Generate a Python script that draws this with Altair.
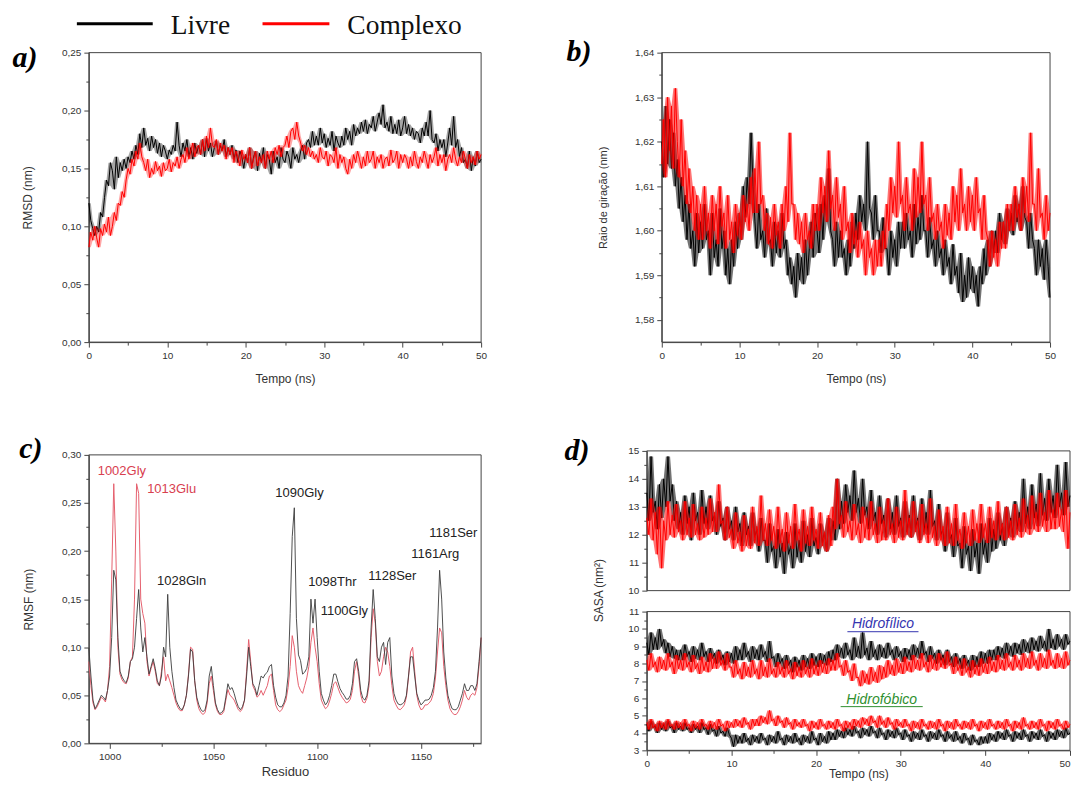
import altair as alt
import pandas as pd

# ---------------- dados ----------------
PASSO_NS = 0.25
SERIES = ["Livre", "Complexo"]
CORES = ["#000000", "#ff0000"]

# a) RMSD (em 0,001 nm), passo de 0,25 ns
RMSD_LIVRE = [
    120, 105, 98, 92, 100, 95, 112, 108, 125, 140, 135, 155, 148, 132, 160, 142,
    155, 148, 158, 150, 160, 155, 165, 158, 170, 162, 180, 168, 185, 170, 176, 165,
    178, 168, 175, 163, 172, 160, 170, 165, 158, 166, 162, 170, 165, 190, 170, 160,
    172, 165, 175, 160, 168, 158, 172, 163, 170, 162, 175, 160, 176, 165, 172, 160,
    168, 174, 162, 170, 165, 175, 160, 168, 162, 170, 158, 166, 155, 165, 160, 150,
    162, 155, 168, 150, 160, 165, 148, 163, 155, 168, 150, 162, 158, 145, 165, 155,
    160, 150, 168, 158, 155, 165, 160, 150, 168, 158, 162, 155, 165, 170, 158, 172,
    175, 168, 182, 170, 178, 170, 185, 172, 180, 168, 176, 170, 182, 165, 178, 172,
    168, 178, 170, 185, 175, 182, 170, 188, 178, 185, 180, 190, 182, 192, 180, 188,
    185, 195, 182, 190, 198, 188, 205, 185, 190, 182, 195, 180, 188, 180, 192, 178,
    185, 195, 180, 188, 178, 185, 175, 182, 180, 172, 185, 178, 190, 178, 200, 175,
    172, 180, 165, 175, 168, 175, 160, 172, 185, 170, 195, 168, 175, 160, 168, 155,
    158, 150, 165, 148, 160, 152, 165, 155, 158]
RMSD_COMPLEXO = [
    82, 95, 88, 100, 90, 82, 98, 92, 102, 95, 108, 92, 100, 112, 105, 120,
    118, 130, 125, 140, 150, 145, 158, 152, 165, 158, 172, 160, 155, 148, 158, 142,
    150, 145, 156, 148, 152, 143, 155, 148, 150, 158, 147, 155, 152, 160, 150, 158,
    162, 155, 168, 158, 165, 172, 160, 168, 170, 162, 175, 165, 178, 168, 185, 170,
    168, 175, 162, 172, 165, 170, 158, 168, 162, 168, 155, 165, 160, 152, 166, 158,
    162, 155, 168, 150, 158, 165, 152, 160, 155, 162, 150, 165, 158, 165, 155, 168,
    162, 170, 160, 168, 170, 178, 168, 182, 185, 175, 190, 178, 172, 165, 170, 162,
    168, 160, 165, 158, 162, 155, 168, 160, 158, 165, 152, 162, 160, 155, 168, 150,
    162, 155, 160, 150, 145, 158, 150, 162, 155, 165, 158, 150, 160, 152, 165, 155,
    158, 165, 150, 160, 155, 162, 150, 158, 160, 152, 166, 155, 158, 165, 150, 162,
    155, 162, 158, 150, 160, 152, 165, 156, 150, 160, 155, 165, 158, 150, 162, 155,
    160, 168, 152, 162, 155, 162, 148, 158, 162, 155, 168, 158, 152, 160, 155, 165,
    158, 150, 162, 155, 160, 153, 165, 158, 162]

# b) Raio de giracao (em 0,001 nm)
RG_LIVRE = [
    1620, 1612, 1628, 1615, 1625, 1614, 1622, 1610, 1616, 1605, 1612, 1602, 1608, 1598, 1606, 1596,
    1600, 1592, 1604, 1595, 1602, 1596, 1606, 1598, 1600, 1590, 1604, 1594, 1598, 1592, 1605, 1596,
    1600, 1590, 1596, 1588, 1598, 1592, 1602, 1596, 1604, 1598, 1610, 1603, 1612, 1606, 1622, 1610,
    1602, 1596, 1606, 1598, 1600, 1594, 1605, 1597, 1598, 1592, 1602, 1595, 1600, 1594, 1604, 1596,
    1598, 1590, 1594, 1588, 1592, 1585, 1595, 1589, 1594, 1588, 1598, 1590, 1596, 1602, 1594, 1604,
    1600, 1595, 1606, 1598, 1608, 1602, 1614, 1600, 1598, 1592, 1602, 1594, 1600, 1594, 1596, 1590,
    1598, 1592, 1602, 1596, 1604, 1598, 1608, 1602, 1606, 1600, 1620, 1605, 1604, 1598, 1608, 1600,
    1600, 1595, 1603, 1596, 1596, 1590, 1600, 1594, 1598, 1592, 1602, 1596, 1602, 1596, 1604, 1598,
    1600, 1594, 1606, 1597, 1603, 1598, 1608, 1600, 1600, 1594, 1603, 1596, 1598, 1592, 1600, 1594,
    1596, 1590, 1598, 1592, 1594, 1588, 1597, 1590, 1592, 1586, 1595, 1584, 1590, 1585, 1594, 1587,
    1592, 1586, 1590, 1583, 1592, 1588, 1596, 1590, 1598, 1592, 1600, 1595, 1600, 1595, 1604, 1598,
    1602, 1597, 1605, 1600, 1604, 1599, 1608, 1602, 1606, 1600, 1610, 1603, 1602, 1596, 1604, 1598,
    1596, 1590, 1598, 1592, 1596, 1589, 1598, 1592, 1585]
RG_COMPLEXO = [
    1615, 1625, 1612, 1630, 1618, 1628, 1614, 1632, 1620, 1612, 1625, 1610, 1618, 1606, 1614, 1604,
    1610, 1600, 1608, 1598, 1606, 1598, 1610, 1600, 1604, 1596, 1608, 1600, 1606, 1597, 1610, 1601,
    1604, 1596, 1608, 1598, 1602, 1595, 1606, 1599, 1604, 1598, 1608, 1602, 1606, 1600, 1612, 1604,
    1614, 1604, 1620, 1606, 1608, 1600, 1604, 1597, 1603, 1596, 1606, 1599, 1602, 1596, 1606, 1600,
    1610, 1602, 1622, 1606, 1606, 1598, 1604, 1597, 1602, 1595, 1604, 1598, 1600, 1596, 1606, 1600,
    1606, 1600, 1612, 1604, 1610, 1602, 1618, 1605, 1608, 1600, 1612, 1603, 1606, 1598, 1610, 1600,
    1602, 1595, 1604, 1597, 1600, 1594, 1602, 1596, 1598, 1590, 1600, 1594, 1596, 1590, 1598, 1592,
    1598, 1592, 1600, 1596, 1606, 1600, 1612, 1604, 1610, 1603, 1620, 1606, 1608, 1600, 1612, 1604,
    1606, 1600, 1614, 1603, 1612, 1604, 1620, 1606, 1608, 1600, 1612, 1602, 1604, 1598, 1606, 1600,
    1602, 1596, 1606, 1599, 1604, 1598, 1610, 1602, 1608, 1600, 1614, 1604, 1606, 1600, 1610, 1602,
    1608, 1600, 1612, 1604, 1605, 1598, 1608, 1600, 1598, 1592, 1600, 1594, 1598, 1592, 1602, 1596,
    1602, 1596, 1606, 1600, 1606, 1600, 1610, 1603, 1606, 1600, 1612, 1604, 1610, 1602, 1622, 1606,
    1606, 1600, 1614, 1603, 1604, 1598, 1608, 1600, 1604]

# c) RMSF (nm) por residuo
RESIDUOS = list(range(990, 1180))
RMSF_LIVRE = [
    0.099, 0.07, 0.045, 0.036, 0.04, 0.045, 0.05, 0.048, 0.045, 0.055,
    0.07, 0.11, 0.18, 0.17, 0.11, 0.075, 0.069, 0.065, 0.063, 0.07,
    0.085, 0.088, 0.1, 0.13, 0.16, 0.12, 0.095, 0.11, 0.09, 0.072,
    0.08, 0.088, 0.078, 0.065, 0.06, 0.07, 0.1, 0.09, 0.155, 0.1,
    0.075, 0.058, 0.045, 0.04, 0.036, 0.035, 0.04, 0.05, 0.07, 0.098,
    0.095, 0.065, 0.048, 0.04, 0.035, 0.033, 0.035, 0.045, 0.07, 0.08,
    0.06, 0.042, 0.035, 0.031, 0.032, 0.035, 0.048, 0.062, 0.056, 0.058,
    0.052, 0.044, 0.038, 0.035, 0.038, 0.045, 0.07, 0.1, 0.08, 0.062,
    0.058, 0.05, 0.06, 0.07, 0.068, 0.072, 0.074, 0.08, 0.082, 0.06,
    0.048, 0.04, 0.038, 0.038, 0.042, 0.05, 0.07, 0.135, 0.215, 0.245,
    0.13, 0.092, 0.086, 0.072, 0.074, 0.078, 0.09, 0.15, 0.125, 0.15,
    0.11, 0.075, 0.052, 0.045, 0.04, 0.043, 0.05, 0.06, 0.072, 0.072,
    0.064, 0.057, 0.053, 0.05, 0.046, 0.046, 0.05, 0.062, 0.085, 0.088,
    0.075, 0.055, 0.047, 0.045, 0.05, 0.065, 0.12, 0.16, 0.13, 0.09,
    0.085, 0.1, 0.105, 0.082, 0.105, 0.11, 0.07, 0.052, 0.045, 0.041,
    0.04, 0.041, 0.043, 0.05, 0.07, 0.09, 0.09, 0.07, 0.052, 0.045,
    0.04, 0.042, 0.045, 0.045, 0.046, 0.05, 0.058, 0.075, 0.12, 0.18,
    0.15, 0.095, 0.068, 0.05, 0.042, 0.036, 0.035, 0.035, 0.038, 0.045,
    0.052, 0.062, 0.055, 0.055, 0.06, 0.06, 0.055, 0.062, 0.085, 0.11]
RMSF_COMPLEXO = [
    0.085, 0.06, 0.042, 0.035, 0.038, 0.043, 0.048, 0.046, 0.043, 0.055,
    0.08, 0.17, 0.27, 0.2, 0.1, 0.072, 0.066, 0.063, 0.062, 0.068,
    0.085, 0.09, 0.15, 0.27, 0.26, 0.15, 0.135, 0.125, 0.085, 0.07,
    0.078, 0.085, 0.075, 0.062, 0.06, 0.075, 0.09, 0.065, 0.072, 0.065,
    0.058, 0.05, 0.042, 0.037, 0.034, 0.034, 0.04, 0.05, 0.072, 0.1,
    0.098, 0.065, 0.045, 0.036, 0.032, 0.03, 0.032, 0.042, 0.062, 0.07,
    0.055, 0.04, 0.033, 0.03, 0.03, 0.033, 0.045, 0.056, 0.05, 0.048,
    0.045, 0.04, 0.035, 0.033, 0.036, 0.045, 0.075, 0.108, 0.085, 0.06,
    0.055, 0.048, 0.05, 0.055, 0.05, 0.055, 0.06, 0.07, 0.072, 0.055,
    0.04, 0.035, 0.033, 0.035, 0.04, 0.045, 0.058, 0.08, 0.112, 0.1,
    0.075, 0.06, 0.055, 0.052, 0.06, 0.068, 0.08, 0.105, 0.12, 0.1,
    0.085, 0.062, 0.045, 0.04, 0.036, 0.038, 0.044, 0.052, 0.062, 0.064,
    0.058, 0.052, 0.048, 0.045, 0.042, 0.043, 0.046, 0.055, 0.075, 0.085,
    0.07, 0.05, 0.043, 0.042, 0.047, 0.06, 0.11, 0.14, 0.125, 0.085,
    0.07, 0.075, 0.09, 0.1, 0.095, 0.08, 0.06, 0.045, 0.04, 0.036,
    0.035, 0.037, 0.04, 0.048, 0.068, 0.095, 0.1, 0.075, 0.05, 0.04,
    0.035, 0.036, 0.04, 0.04, 0.042, 0.045, 0.052, 0.068, 0.095, 0.12,
    0.115, 0.08, 0.06, 0.045, 0.036, 0.032, 0.03, 0.03, 0.033, 0.038,
    0.045, 0.055, 0.048, 0.045, 0.05, 0.052, 0.05, 0.058, 0.08, 0.11]
ROTULOS_LIVRE = ["1090Gly", "1028Gln", "1098Thr", "1100Gly", "1128Ser", "1161Arg", "1181Ser"]
ROTULOS_LIVRE_R = [1091.5, 1034.7, 1107.3, 1113.1, 1136.2, 1156.9, 1165.6]
ROTULOS_LIVRE_V = [0.2606, 0.1692, 0.1682, 0.1381, 0.1744, 0.1972, 0.219]
ROTULOS_COMPLEXO = ["1002Gly", "1013Glu"]
ROTULOS_COMPLEXO_R = [1005.9, 1029.9]
ROTULOS_COMPLEXO_V = [0.2834, 0.2647]

# d) SASA (em 0,1 nm2)
SASA_TOTAL_LIVRE = [
    135, 125, 148, 128, 132, 122, 138, 126, 140, 130, 148, 132, 138, 125, 132, 122,
    128, 120, 134, 124, 130, 118, 135, 125, 128, 120, 136, 124, 130, 122, 134, 125,
    127, 120, 132, 123, 126, 118, 130, 122, 125, 118, 130, 121, 124, 116, 128, 120,
    123, 116, 128, 119, 122, 114, 126, 118, 118, 110, 124, 114, 116, 108, 122, 112,
    117, 106, 121, 113, 116, 108, 124, 112, 118, 110, 125, 114, 120, 112, 126, 116,
    119, 113, 124, 117, 121, 114, 126, 118, 125, 118, 140, 122, 132, 124, 138, 128,
    134, 125, 143, 128, 133, 124, 140, 127, 130, 122, 136, 125, 128, 120, 134, 124,
    127, 119, 133, 122, 128, 120, 134, 123, 126, 119, 132, 121, 127, 119, 134, 122,
    126, 118, 133, 121, 128, 120, 136, 123, 125, 118, 131, 120, 122, 114, 128, 118,
    120, 112, 126, 116, 117, 108, 123, 113, 116, 107, 122, 112, 117, 106, 124, 113,
    118, 110, 126, 114, 122, 115, 128, 118, 124, 116, 130, 120, 126, 119, 132, 122,
    128, 121, 140, 124, 130, 122, 138, 126, 131, 123, 142, 127, 133, 125, 140, 128,
    134, 126, 145, 130, 135, 127, 146, 130, 134]
SASA_TOTAL_COMPLEXO = [
    126, 120, 133, 118, 128, 113, 130, 108, 125, 118, 132, 120, 127, 119, 131, 121,
    125, 118, 132, 120, 126, 119, 131, 120, 124, 118, 130, 119, 126, 120, 133, 121,
    128, 121, 138, 124, 125, 118, 130, 119, 122, 115, 128, 117, 121, 114, 127, 116,
    122, 115, 130, 117, 123, 116, 134, 118, 124, 116, 129, 118, 123, 115, 130, 117,
    122, 114, 128, 117, 123, 115, 131, 118, 122, 114, 129, 117, 123, 116, 130, 118,
    122, 115, 128, 116, 121, 114, 127, 116, 130, 122, 140, 124, 127, 119, 132, 121,
    125, 118, 131, 120, 124, 117, 130, 119, 126, 118, 132, 120, 124, 117, 130, 118,
    125, 118, 133, 120, 124, 117, 130, 119, 125, 118, 136, 120, 126, 119, 132, 121,
    125, 117, 131, 120, 124, 117, 133, 119, 123, 116, 129, 118, 123, 116, 130, 117,
    124, 116, 131, 118, 122, 115, 128, 117, 123, 116, 129, 118, 124, 117, 131, 119,
    124, 117, 130, 119, 125, 118, 132, 120, 124, 118, 130, 119, 125, 118, 131, 120,
    126, 119, 133, 121, 127, 120, 134, 122, 128, 121, 135, 123, 128, 121, 136, 122,
    129, 122, 135, 123, 129, 121, 136, 115, 128]
SASA_HIDROFILICO_LIVRE = [
    92, 85, 98, 88, 95, 88, 100, 90, 94, 86, 92, 84, 90, 83, 88, 82,
    88, 82, 91, 84, 87, 81, 90, 83, 88, 82, 92, 84, 87, 81, 89, 83,
    86, 80, 88, 82, 85, 79, 87, 81, 86, 80, 90, 82, 88, 82, 92, 84,
    87, 81, 90, 83, 88, 82, 91, 84, 87, 81, 93, 83, 84, 78, 86, 80,
    83, 77, 85, 79, 82, 75, 84, 78, 82, 76, 85, 78, 83, 77, 86, 79,
    84, 78, 86, 80, 85, 79, 87, 81, 88, 82, 91, 84, 89, 83, 92, 85,
    88, 82, 95, 84, 90, 83, 98, 85, 89, 82, 93, 84, 88, 82, 91, 84,
    89, 83, 92, 85, 88, 82, 90, 84, 87, 81, 89, 83, 88, 82, 91, 84,
    89, 83, 93, 85, 87, 81, 90, 83, 86, 80, 88, 82, 85, 79, 88, 81,
    84, 78, 86, 80, 83, 77, 85, 79, 82, 76, 85, 78, 84, 78, 87, 80,
    86, 80, 88, 82, 88, 82, 90, 84, 89, 83, 92, 85, 90, 84, 92, 86,
    91, 85, 94, 87, 92, 86, 95, 88, 93, 87, 96, 89, 93, 87, 100, 89,
    94, 88, 97, 90, 94, 88, 97, 91, 93]
SASA_HIDROFILICO_COMPLEXO = [
    82, 76, 86, 78, 81, 75, 84, 77, 82, 76, 86, 78, 81, 74, 85, 77,
    82, 76, 86, 78, 81, 75, 85, 77, 80, 74, 84, 76, 81, 75, 86, 77,
    83, 77, 87, 79, 82, 76, 86, 78, 78, 72, 82, 74, 77, 71, 81, 73,
    78, 72, 82, 74, 77, 71, 82, 73, 78, 72, 83, 74, 77, 72, 81, 74,
    78, 72, 82, 74, 77, 71, 81, 73, 78, 72, 82, 74, 78, 72, 83, 74,
    79, 73, 82, 75, 80, 74, 83, 76, 82, 76, 86, 78, 79, 73, 82, 75,
    76, 70, 80, 72, 72, 67, 76, 69, 74, 68, 78, 70, 75, 69, 79, 71,
    78, 72, 82, 74, 79, 73, 83, 75, 80, 74, 84, 76, 81, 75, 85, 77,
    82, 76, 86, 78, 81, 75, 85, 77, 82, 76, 86, 78, 83, 77, 87, 79,
    80, 74, 84, 76, 79, 73, 83, 75, 78, 72, 82, 74, 79, 73, 83, 75,
    80, 74, 84, 76, 81, 75, 85, 77, 82, 76, 86, 78, 81, 76, 85, 78,
    82, 76, 86, 78, 83, 77, 87, 79, 82, 76, 86, 78, 83, 77, 88, 79,
    82, 77, 86, 78, 83, 77, 87, 79, 82]
SASA_HIDROFOBICO_LIVRE = [
    45, 41, 47, 43, 44, 40, 46, 42, 45, 41, 47, 43, 44, 40, 46, 42,
    44, 41, 46, 42, 43, 40, 45, 42, 44, 40, 46, 42, 43, 39, 45, 41,
    42, 38, 44, 40, 41, 38, 43, 39, 37, 32, 39, 34, 38, 34, 40, 35,
    37, 33, 39, 35, 38, 34, 40, 36, 37, 33, 39, 35, 38, 34, 41, 36,
    37, 33, 39, 35, 38, 34, 40, 35, 37, 33, 39, 35, 38, 34, 41, 36,
    37, 33, 40, 35, 38, 34, 41, 36, 40, 36, 42, 38, 41, 37, 43, 39,
    42, 38, 44, 40, 41, 37, 43, 39, 42, 38, 44, 40, 41, 37, 43, 39,
    40, 36, 42, 38, 41, 37, 43, 39, 40, 36, 42, 38, 39, 35, 41, 37,
    40, 36, 42, 38, 39, 35, 41, 37, 40, 36, 42, 38, 39, 35, 41, 37,
    39, 35, 41, 36, 38, 34, 40, 36, 37, 33, 39, 35, 36, 33, 38, 34,
    38, 34, 40, 36, 39, 35, 41, 37, 40, 36, 42, 38, 39, 35, 41, 37,
    40, 36, 42, 38, 39, 35, 41, 37, 40, 36, 42, 38, 39, 35, 41, 37,
    40, 36, 42, 38, 41, 37, 43, 39, 40]
SASA_HIDROFOBICO_COMPLEXO = [
    46, 42, 48, 43, 45, 41, 47, 43, 46, 42, 48, 44, 45, 42, 47, 43,
    46, 42, 48, 44, 45, 41, 47, 43, 46, 42, 48, 44, 45, 42, 47, 43,
    46, 42, 48, 44, 45, 41, 47, 43, 46, 43, 48, 44, 47, 43, 49, 45,
    46, 42, 48, 44, 48, 44, 50, 46, 49, 45, 53, 47, 48, 44, 50, 46,
    47, 43, 49, 45, 46, 42, 48, 44, 46, 43, 48, 44, 45, 41, 47, 43,
    46, 42, 48, 44, 45, 42, 47, 43, 46, 42, 48, 44, 45, 41, 47, 43,
    46, 42, 48, 44, 47, 43, 49, 45, 48, 44, 50, 46, 47, 43, 50, 45,
    47, 43, 49, 45, 46, 42, 48, 44, 46, 43, 48, 44, 45, 41, 47, 43,
    46, 42, 48, 44, 45, 42, 47, 43, 46, 42, 48, 44, 45, 41, 47, 43,
    46, 42, 48, 44, 45, 42, 47, 43, 46, 42, 48, 44, 45, 41, 47, 43,
    46, 42, 48, 44, 45, 42, 47, 43, 46, 42, 48, 44, 45, 41, 47, 43,
    46, 42, 49, 44, 45, 42, 47, 43, 46, 42, 48, 44, 45, 41, 47, 43,
    46, 42, 48, 44, 45, 42, 47, 43, 45]

# marcas dos eixos
TICKS_TEMPO = [0, 5, 10, 15, 20, 25, 30, 35, 40, 45, 50]
TICKS_RMSD = [0, 0.025, 0.05, 0.075, 0.1, 0.125, 0.15, 0.175, 0.2, 0.225, 0.25]
TICKS_RG = [1.58, 1.585, 1.59, 1.595, 1.6, 1.605, 1.61, 1.615, 1.62, 1.625, 1.63, 1.635, 1.64]
TICKS_RMSF = [0, 0.025, 0.05, 0.075, 0.1, 0.125, 0.15, 0.175, 0.2, 0.225, 0.25, 0.275, 0.3]
TICKS_RESIDUO = [1000, 1025, 1050, 1075, 1100, 1125, 1150, 1175]
TICKS_SASA_TOTAL = [10, 10.5, 11, 11.5, 12, 12.5, 13, 13.5, 14, 14.5, 15]
TICKS_SASA_PARTES = [3, 3.5, 4, 4.5, 5, 5.5, 6, 6.5, 7, 7.5, 8, 8.5, 9, 9.5, 10, 10.5, 11]

for serie_ in (RMSD_LIVRE, RMSD_COMPLEXO, RG_LIVRE, RG_COMPLEXO, SASA_TOTAL_LIVRE,
               SASA_TOTAL_COMPLEXO, SASA_HIDROFILICO_LIVRE, SASA_HIDROFILICO_COMPLEXO,
               SASA_HIDROFOBICO_LIVRE, SASA_HIDROFOBICO_COMPLEXO):
    assert len(serie_) == 201, len(serie_)
assert len(RMSF_LIVRE) == len(RESIDUOS) == len(RMSF_COMPLEXO)

# ---------------- estilo ----------------
FONTE = "Liberation Sans"
SERIFA = "Liberation Serif"
COR_EIXO = "#444444"
COR_TEXTO = "#333333"


def tabela_tempo(valores, fator):
    return pd.DataFrame({"t": [i * PASSO_NS for i in range(len(valores))],
                         "v": [x * fator for x in valores]})


def eixo(titulo, valores, teste, fmt, pad_titulo, **extra):
    rotulo = f"({teste}) ? replace(format(datum.value, '{fmt}'), '.', ',') : ''"
    return alt.Axis(title=titulo, values=valores, labelExpr=rotulo,
                    tickSize={"condition": {"test": teste, "value": 5}, "value": 3},
                    labelFlush=False, labelOverlap=False, titlePadding=pad_titulo, **extra)


TESTE_10 = "datum.value % 10 == 0"
TESTE_005 = "abs(datum.value * 20 - round(datum.value * 20)) < 0.001"
TESTE_001 = "abs(datum.value * 100 - round(datum.value * 100)) < 0.001"
TESTE_50 = "datum.value % 50 == 0"
TESTE_1 = "datum.value % 1 == 0"


def moldura(x0, x1, y0, y1, xenc, esc_y, ax_y, xf="t"):
    df = pd.DataFrame({xf: [x0], "xf2": [x1], "v": [y0], "v2": [y1]})
    return alt.Chart(df).mark_rect(fillOpacity=0, stroke=COR_EIXO, strokeWidth=1).encode(
        x=xenc, x2="xf2", y=alt.Y("v:Q", scale=esc_y, axis=ax_y), y2="v2")


def serie(valores, fator, cor, xenc, esc_y, ax_y, opac):
    df = tabela_tempo(valores, fator)
    faixa = alt.Chart(df).transform_window(
        lo="min(v)", hi="max(v)", frame=[-1, 1], sort=[alt.SortField("t")]
    ).mark_area(color=cor, opacity=opac).encode(
        x=xenc, y=alt.Y("lo:Q", scale=esc_y, axis=ax_y), y2="hi:Q")
    linha = alt.Chart(df).mark_line(color=cor, strokeWidth=1).encode(
        x=xenc, y=alt.Y("v:Q", scale=esc_y, axis=ax_y))
    return [faixa, linha]


def letra(texto, dx, dy):
    return alt.Chart(pd.DataFrame({"letra": [texto]})).mark_text(
        font=SERIFA, fontSize=30, fontStyle="italic", fontWeight="bold",
        align="center", baseline="alphabetic", color="#000000").encode(
        x=alt.value(dx), y=alt.value(dy), text="letra:N")


def legenda_item(nome, cor, x0, x1, xt, y_traco, y_texto):
    traco = alt.Chart(pd.DataFrame({"serie": [nome]})).mark_rule(color=cor, strokeWidth=3).encode(
        x=alt.value(x0), x2=alt.value(x1), y=alt.value(y_traco))
    texto = alt.Chart(pd.DataFrame({"serie": [nome]})).mark_text(
        font=SERIFA, fontSize=27.5, color="#111111", align="left", baseline="middle").encode(
        x=alt.value(xt), y=alt.value(y_texto), text="serie:N")
    return [traco, texto]


# ---------------- painel a ----------------
W_A, H_A = 393, 290
x_a = alt.X("t:Q", scale=alt.Scale(domain=[0, 50], nice=False),
            axis=eixo("Tempo (ns)", TICKS_TEMPO, TESTE_10, "d", 13))
esc_a = alt.Scale(domain=[0, 0.25], nice=False)
ax_a = eixo("RMSD (nm)", TICKS_RMSD, TESTE_005, ".2f", 27)
painel_a = alt.layer(
    moldura(0, 50, 0, 0.25, x_a, esc_a, ax_a),
    *serie(RMSD_LIVRE, 0.001, CORES[0], x_a, esc_a, ax_a, 0.35),
    *serie(RMSD_COMPLEXO, 0.001, CORES[1], x_a, esc_a, ax_a, 0.35),
    *legenda_item(SERIES[0], CORES[0], -12, 64, 82, -29, -27),
    *legenda_item(SERIES[1], CORES[1], 174, 241, 259, -29, -27),
    letra("a)", -64, 14),
).properties(width=W_A, height=H_A)

# ---------------- painel b ----------------
W_D = 424
x_b = alt.X("t:Q", scale=alt.Scale(domain=[0, 50], nice=False, range=[15, 404]),
            axis=eixo("Tempo (ns)", TICKS_TEMPO, TESTE_10, "d", 13))
esc_b = alt.Scale(domain=[1.575, 1.64], nice=False, zero=False)
ax_b = eixo("Raio de giração (nm)", TICKS_RG, TESTE_001, ".2f", 26, offset=-15, titleFontSize=11)
painel_b = alt.layer(
    moldura(0, 50, 1.575, 1.64, x_b, esc_b, ax_b),
    *serie(RG_LIVRE, 0.001, CORES[0], x_b, esc_b, ax_b, 0.55),
    *serie(RG_COMPLEXO, 0.001, CORES[1], x_b, esc_b, ax_b, 0.55),
    letra("b)", -68, 8),
).properties(width=W_D, height=H_A)

# ---------------- painel c ----------------
H_C = 289
x_c = alt.X("r:Q", scale=alt.Scale(domain=[990, 1179], nice=False, zero=False),
            axis=eixo("Residuo", TICKS_RESIDUO, TESTE_50, "d", 4, titleFontSize=13))
esc_c = alt.Scale(domain=[0, 0.3], nice=False)
ax_c = eixo("RMSF (nm)", TICKS_RMSF, TESTE_005, ".2f", 26)
y_c = alt.Y("v:Q", scale=esc_c, axis=ax_c)
df_rmsf_l = pd.DataFrame({"r": RESIDUOS, "v": RMSF_LIVRE})
df_rmsf_c = pd.DataFrame({"r": RESIDUOS, "v": RMSF_COMPLEXO})
df_rot_l = pd.DataFrame({"r": ROTULOS_LIVRE_R, "v": ROTULOS_LIVRE_V, "txt": ROTULOS_LIVRE})
df_rot_c = pd.DataFrame({"r": ROTULOS_COMPLEXO_R, "v": ROTULOS_COMPLEXO_V, "txt": ROTULOS_COMPLEXO})
painel_c = alt.layer(
    moldura(990, 1179, 0, 0.3, x_c, esc_c, ax_c, xf="r"),
    alt.Chart(df_rmsf_c).mark_line(strokeWidth=1, color="#e5606e").encode(x=x_c, y=y_c),
    alt.Chart(df_rmsf_l).mark_line(strokeWidth=1, color="#3c3c3c", opacity=0.9).encode(x=x_c, y=y_c),
    alt.Chart(df_rot_c).mark_text(font=FONTE, fontSize=13, color="#d8404f", align="center",
                                  baseline="middle").encode(x=x_c, y=y_c, text="txt:N"),
    alt.Chart(df_rot_l).mark_text(font=FONTE, fontSize=13, color="#222222", align="center",
                                  baseline="middle").encode(x=x_c, y=y_c, text="txt:N"),
    letra("c)", -58, 3),
).properties(width=W_A, height=H_C)

# ---------------- painel d ----------------
H_D = 296
x_d = alt.X("t:Q", scale=alt.Scale(domain=[0, 50], nice=False),
            axis=eixo("Tempo (ns)", TICKS_TEMPO, TESTE_10, "d", 0,
                      labelAlign={"condition": {"test": "datum.value == 50", "value": "right"},
                                  "value": "center"}))
esc_d1 = alt.Scale(domain=[10, 15], nice=False, zero=False, range=[136, -4])
ax_d1 = eixo(None, TICKS_SASA_TOTAL, TESTE_1, "d", 4, orient="left")
esc_d2 = alt.Scale(domain=[3, 11], nice=False, zero=False, range=[296, 157])
ax_d2 = eixo(None, TICKS_SASA_PARTES, TESTE_1, "d", 4, orient="left")
y_d2 = alt.Y("v:Q", scale=esc_d2, axis=ax_d2)

ANOT_TEXTO = ["Hidrofílico", "Hidrofóbico"]
ANOT_COR = ["#3535b0", "#2f8f2f"]
ANOT_T = [27.9, 27.75]
ANOT_V = [10.26, 5.89]
SUB_T0 = [23.7, 22.9]
SUB_T1 = [32.1, 32.6]
SUB_V = [9.84, 5.52]


def anotacao(i):
    txt = alt.Chart(pd.DataFrame({"t": [ANOT_T[i]], "v": [ANOT_V[i]], "txt": [ANOT_TEXTO[i]]})).mark_text(
        font=FONTE, fontSize=14, fontStyle="italic", align="center", baseline="middle",
        color=ANOT_COR[i]).encode(x=x_d, y=y_d2, text="txt:N")
    sub = alt.Chart(pd.DataFrame({"t": [SUB_T0[i]], "t2": [SUB_T1[i]], "v": [SUB_V[i]]})).mark_rule(
        strokeWidth=1, color=ANOT_COR[i]).encode(x=x_d, x2="t2", y=y_d2)
    return [txt, sub]


superior = alt.layer(
    moldura(0, 50, 10, 15, x_d, esc_d1, ax_d1),
    *serie(SASA_TOTAL_LIVRE, 0.1, CORES[0], x_d, esc_d1, ax_d1, 0.55),
    *serie(SASA_TOTAL_COMPLEXO, 0.1, CORES[1], x_d, esc_d1, ax_d1, 0.55),
)
inferior = alt.layer(
    moldura(0, 50, 3, 11, x_d, esc_d2, ax_d2),
    *serie(SASA_HIDROFILICO_LIVRE, 0.1, CORES[0], x_d, esc_d2, ax_d2, 0.55),
    *serie(SASA_HIDROFOBICO_LIVRE, 0.1, CORES[0], x_d, esc_d2, ax_d2, 0.55),
    *serie(SASA_HIDROFILICO_COMPLEXO, 0.1, CORES[1], x_d, esc_d2, ax_d2, 0.55),
    *serie(SASA_HIDROFOBICO_COMPLEXO, 0.1, CORES[1], x_d, esc_d2, ax_d2, 0.55),
    *anotacao(0),
    *anotacao(1),
    alt.Chart(pd.DataFrame({"titulo": ["SASA (nm²)"]})).mark_text(
        font=FONTE, fontSize=12, angle=270, color=COR_TEXTO, align="center", baseline="middle").encode(
        x=alt.value(-48), y=alt.value(136), text="titulo:N"),
    letra("d)", -70, 5),
)
painel_d = alt.layer(superior, inferior).resolve_scale(y="independent").properties(width=W_D, height=H_D)

# ---------------- composicao ----------------
grafico = alt.concat(
    painel_a, painel_b, painel_c, painel_d,
    columns=2, spacing={"row": 113, "column": 166}, bounds="flush",
).properties(
    padding={"left": 4, "top": 2, "right": 0, "bottom": 0}
).configure_view(stroke="transparent").configure_axis(
    labelFont=FONTE, titleFont=FONTE, labelFontSize=10, titleFontSize=12,
    titleFontWeight="normal", labelColor=COR_TEXTO, titleColor=COR_TEXTO,
    domainColor=COR_EIXO, tickColor=COR_EIXO, grid=False, labelPadding=3,
)

grafico.save("out.html", embed_options={"renderer": "svg", "actions": False})
